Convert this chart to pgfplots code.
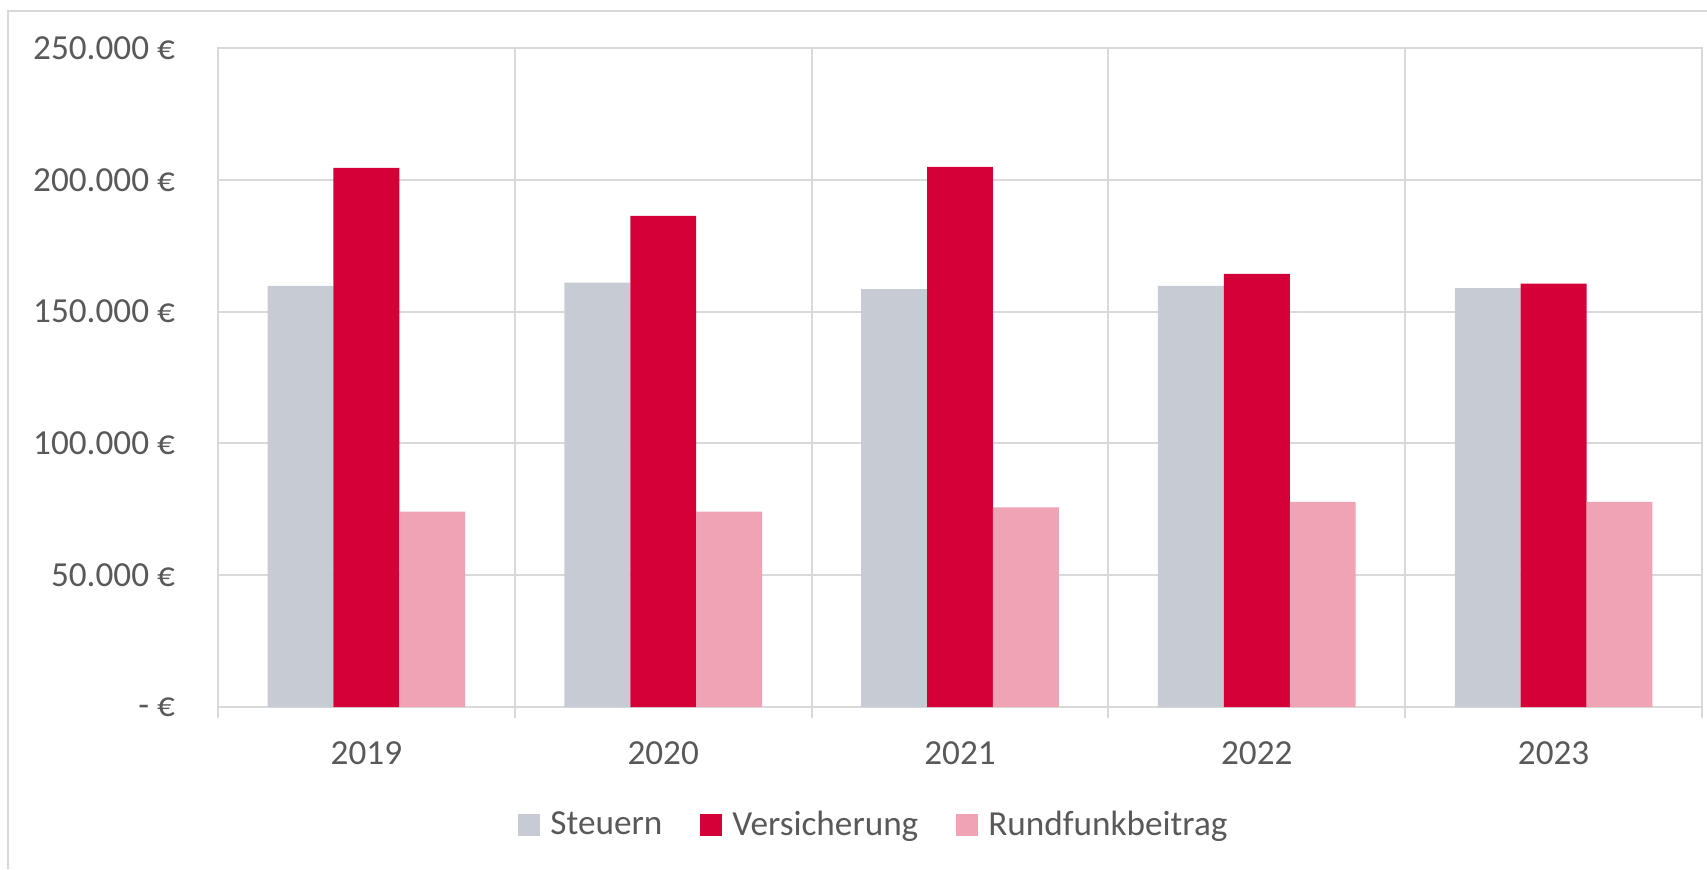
\documentclass[border=0pt]{standalone}
\usepackage{fontspec}
\setmainfont{Carlito}
\usepackage{pgfplots}
\pgfplotsset{compat=1.18}
\definecolor{steuer}{HTML}{C7CCD4}
\definecolor{vers}{HTML}{D50037}
\definecolor{rund}{HTML}{F0A3B5}
\definecolor{gridc}{HTML}{D9D9D9}
\definecolor{txt}{HTML}{595959}
\begin{document}
\begin{tikzpicture}
\useasboundingbox (-109pt,-81pt) rectangle (744.5pt,353.5pt);
\draw[gridc, line width=1pt] (-105pt,-81pt) -- (-105pt,348pt) -- (744.5pt,348pt);
\begin{axis}[
  scale only axis, width=742pt, height=329.5pt,
  xmin=-0.5, xmax=4.5, ymin=0, ymax=250000,
  ybar=0pt, bar width=0.222,
  ytick={0,50000,100000,150000,200000,250000},
  yticklabels={- €, 50.000 €, 100.000 €, 150.000 €, 200.000 €, 250.000 €},
  scaled y ticks=false,
  xtick={0,1,2,3,4}, xticklabels={2019,2020,2021,2022,2023},
  minor xtick={-0.5,0.5,1.5,2.5,3.5,4.5},
  xminorgrids=true, ymajorgrids=true, xmajorgrids=false,
  grid style={gridc, line width=1pt},
  minor grid style={gridc, line width=1pt},
  axis line style={gridc, line width=1pt},
  tick align=outside, xtick pos=bottom, ytick pos=left,
  major tick length=0pt, minor tick length=5.5pt,
  minor tick style={gridc, line width=1pt},
  major tick style={draw=none},
  tick label style={font=\fontsize{17.6}{20}\selectfont, text=txt},
  yticklabel style={xshift=-18pt},
  xticklabel style={yshift=-14pt},
  legend style={at={(axis description cs:0.4427,-0.179)}, anchor=center, draw=none, fill=none,
    legend columns=3, font=\fontsize{17.6}{20}\selectfont, text=txt,
    /tikz/every odd column/.append style={column sep=3pt},
    /tikz/every even column/.append style={column sep=17pt}},
]
\addplot[fill=steuer, draw=none, legend image code/.code={\fill[steuer] (0pt,-5.5pt) rectangle (11pt,5.5pt);}]
  coordinates {(0,159800) (1,161000) (2,158500) (3,159800) (4,158900)};
\addlegendentry{Steuern}
\addplot[fill=vers, draw=none, legend image code/.code={\fill[vers] (0pt,-5.5pt) rectangle (11pt,5.5pt);}]
  coordinates {(0,204500) (1,186300) (2,204900) (3,164300) (4,160600)};
\addlegendentry{Versicherung}
\addplot[fill=rund, draw=none, legend image code/.code={\fill[rund] (0pt,-5.5pt) rectangle (11pt,5.5pt);}]
  coordinates {(0,74100) (1,74100) (2,75700) (3,77800) (4,77800)};
\addlegendentry{Rundfunkbeitrag}
\end{axis}
\end{tikzpicture}
\end{document}
